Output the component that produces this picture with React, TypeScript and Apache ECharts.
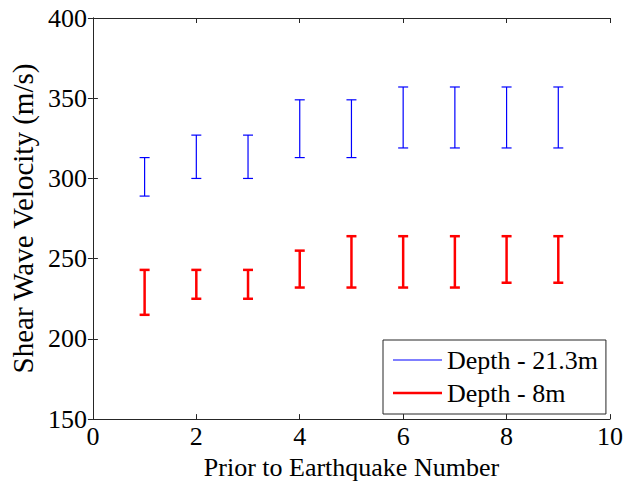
import React, { useEffect, useRef } from "react";
import * as echarts from "echarts";

const quakeNumbers = [1, 2, 3, 4, 5, 6, 7, 8, 9];
const deepLow = [289, 300, 300, 313, 313, 319, 319, 319, 319];
const deepHigh = [313, 327, 327, 349, 349, 357, 357, 357, 357];
const shallowLow = [215, 225, 225, 232, 232, 232, 232, 235, 235];
const shallowHigh = [243, 243, 243, 255, 264, 264, 264, 264, 264];
const seriesNames = ["Depth - 21.3m", "Depth - 8m"];

const FONT = "Liberation Serif";
const AXIS_COLOR = "#262626";
const BLUE = "#0000ff";
const RED = "#ff0000";

function makeRender(color: string, lw: number, hw: number) {
  return (params: any, api: any) => {
    const x = api.value(0);
    const lo = api.coord([x, api.value(1)]);
    const hi = api.coord([x, api.value(2)]);
    const style = { stroke: color, lineWidth: lw };
    return {
      type: "group",
      children: [
        { type: "line", shape: { x1: lo[0], y1: lo[1], x2: hi[0], y2: hi[1] }, style },
        { type: "line", shape: { x1: lo[0] - hw, y1: lo[1], x2: lo[0] + hw, y2: lo[1] }, style },
        { type: "line", shape: { x1: hi[0] - hw, y1: hi[1], x2: hi[0] + hw, y2: hi[1] }, style },
      ],
    };
  };
}

export default function App() {
  const ref = useRef<HTMLDivElement>(null);
  useEffect(() => {
    if (!ref.current) return;
    const chart = echarts.init(ref.current, null, { renderer: "svg" });
    const deepData = quakeNumbers.map((x, i) => [x, deepLow[i], deepHigh[i]]);
    const shallowData = quakeNumbers.map((x, i) => [x, shallowLow[i], shallowHigh[i]]);
    const axisLine = { show: true, lineStyle: { color: AXIS_COLOR, width: 1 } };
    const axisTick = { show: true, inside: true, length: 5, lineStyle: { color: AXIS_COLOR } };
    chart.setOption({
      animation: false,
      backgroundColor: "#ffffff",
      textStyle: { fontFamily: FONT },
      grid: { left: 92, right: 19, top: 18, bottom: 65, containLabel: false },
      xAxis: [
        {
          type: "value",
          min: 0,
          max: 10,
          interval: 2,
          position: "bottom",
          name: "Prior to Earthquake Number",
          nameLocation: "middle",
          nameGap: 33,
          nameTextStyle: { fontFamily: FONT, fontSize: 26, color: "#000" },
          axisLine,
          axisTick,
          axisLabel: { fontFamily: FONT, fontSize: 26, color: "#000", margin: 4 },
          splitLine: { show: false },
        },
        {
          type: "value",
          min: 0,
          max: 10,
          interval: 2,
          position: "top",
          axisLine,
          axisTick,
          axisLabel: { show: false },
          splitLine: { show: false },
        },
      ],
      yAxis: [
        {
          type: "value",
          min: 150,
          max: 400,
          interval: 50,
          position: "left",
          name: "Shear Wave Velocity (m/s)",
          nameLocation: "middle",
          nameGap: 54,
          nameTextStyle: { fontFamily: FONT, fontSize: 29, color: "#000" },
          axisLine,
          axisTick,
          axisLabel: { fontFamily: FONT, fontSize: 26, color: "#000", margin: 6 },
          splitLine: { show: false },
        },
        {
          type: "value",
          min: 150,
          max: 400,
          interval: 50,
          position: "right",
          axisLine,
          axisTick,
          axisLabel: { show: false },
          splitLine: { show: false },
        },
      ],
      legend: {
        orient: "vertical",
        left: 383,
        top: 340,
        padding: [7, 8, 8, 10],
        itemGap: 7,
        itemWidth: 49,
        itemHeight: 3,
        backgroundColor: "#ffffff",
        borderColor: AXIS_COLOR,
        borderWidth: 1,
        borderRadius: 0,
        textStyle: { fontFamily: FONT, fontSize: 26, color: "#000", lineHeight: 25 },
        data: [
          {
            name: seriesNames[0],
            icon: "path://M0,0H49V1.2H0Z",
            itemStyle: { color: BLUE, borderColor: BLUE, borderWidth: 0 },
          },
          {
            name: seriesNames[1],
            icon: "path://M0,0H49V2.5H0Z",
            itemStyle: { color: RED, borderColor: RED, borderWidth: 0 },
          },
        ],
      },
      series: [
        {
          name: seriesNames[0],
          type: "custom",
          xAxisIndex: 0,
          yAxisIndex: 0,
          itemStyle: { color: BLUE, borderColor: BLUE },
          renderItem: makeRender(BLUE, 1.2, 5),
          encode: { x: 0, y: [1, 2] },
          data: deepData,
          z: 3,
        },
        {
          name: seriesNames[1],
          type: "custom",
          xAxisIndex: 0,
          yAxisIndex: 0,
          itemStyle: { color: RED, borderColor: RED },
          renderItem: makeRender(RED, 2.5, 5),
          encode: { x: 0, y: [1, 2] },
          data: shallowData,
          z: 3,
        },
      ],
    });
    return () => chart.dispose();
  }, []);
  return (
    <div
      ref={ref}
      style={{ position: "fixed", left: 0, top: 0, width: 629, height: 485, background: "#fff" }}
    />
  );
}
